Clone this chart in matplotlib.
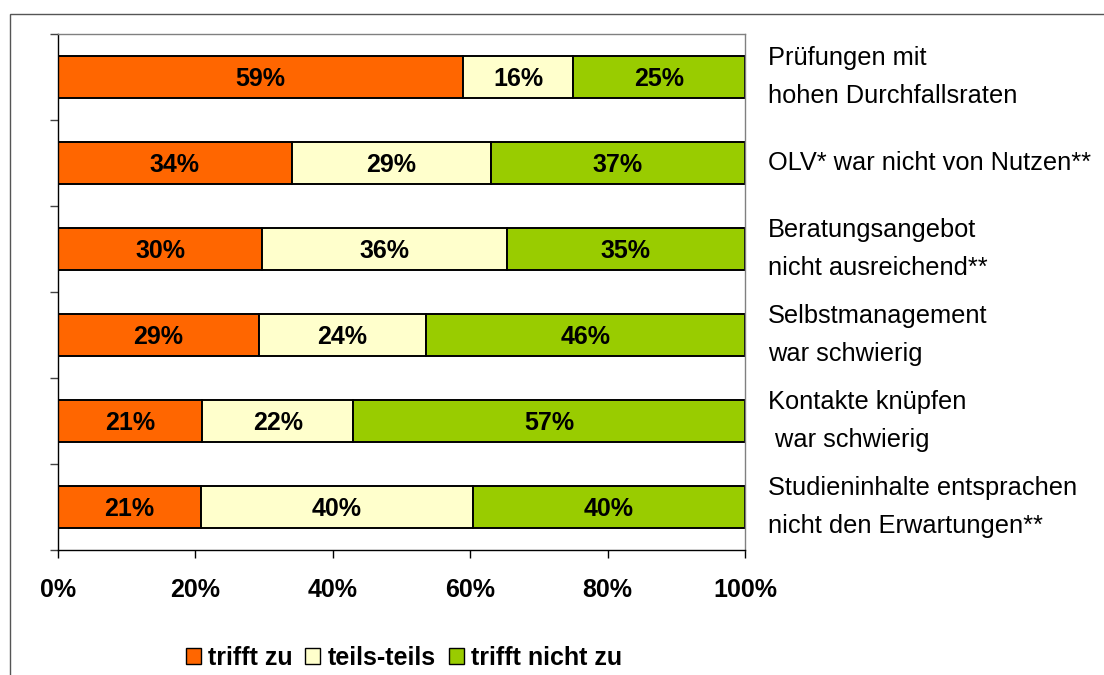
import matplotlib
matplotlib.use("Agg")
import matplotlib.pyplot as plt
from matplotlib.patches import Rectangle, Patch
import numpy as np

plt.rcParams['font.family'] = ['Liberation Sans', 'DejaVu Sans']

categories = [
    "Prüfungen mit\nhohen Durchfallsraten",
    "OLV* war nicht von Nutzen**",
    "Beratungsangebot\nnicht ausreichend**",
    "Selbstmanagement\nwar schwierig",
    "Kontakte knüpfen\n war schwierig",
    "Studieninhalte entsprachen\nnicht den Erwartungen**",
]
trifft_zu = [59, 34, 30, 29, 21, 21]
teils_teils = [16, 29, 36, 24, 22, 40]
trifft_nicht_zu = [25, 37, 35, 46, 57, 40]
series_names = ["trifft zu", "teils-teils", "trifft nicht zu"]
colors = ["#FF6600", "#FFFFCC", "#99CC00"]
xtick_labels = ["0%", "20%", "40%", "60%", "80%", "100%"]

W, H = 1104, 675
fig = plt.figure(figsize=(W / 100, H / 100), dpi=100)
ax = fig.add_axes([58 / W, 1 - 550 / H, (745 - 58) / W, (550 - 34) / H])

data = np.array([trifft_zu, teils_teils, trifft_nicht_zu], dtype=float)
totals = data.sum(axis=0)
shares = data / totals
y = np.arange(len(categories))
left = np.zeros(len(categories))
for i in range(3):
    ax.barh(y, shares[i], left=left, height=0.49, color=colors[i],
            edgecolor="black", linewidth=1.4, label=series_names[i])
    for j in range(len(categories)):
        ax.text(left[j] + shares[i][j] / 2, y[j] + 0.02, f"{int(data[i][j])}%",
                ha="center", va="center", fontsize=18, fontweight="bold")
    left += shares[i]

ax.set_xlim(0, 1)
ax.set_ylim(len(categories) - 0.5, -0.5)
ax.set_xticks(np.linspace(0, 1, 6))
ax.set_xticklabels(xtick_labels, fontsize=18, fontweight="bold")
ax.set_yticks(np.arange(-0.5, len(categories), 1.0))
ax.set_yticklabels([])
ax.tick_params(axis="x", direction="out", length=6, width=1, pad=14)
ax.tick_params(axis="y", direction="out", length=6, width=1, color="#444444")
for s in ["top", "right"]:
    ax.spines[s].set_color("#808080")
    ax.spines[s].set_linewidth(1)
for s in ["left", "bottom"]:
    ax.spines[s].set_color("black")
    ax.spines[s].set_linewidth(1)

for j, cat in enumerate(categories):
    ax.text(1.0335, y[j], cat, transform=ax.get_yaxis_transform(),
            ha="left", va="center", fontsize=18.3, linespacing=1.7)

handles = [Patch(facecolor=c, edgecolor="black", linewidth=1) for c in colors]
fig.legend(handles, series_names, loc="center", bbox_to_anchor=(404 / W, 1 - 658 / H),
           ncol=3, frameon=False, handlelength=0.6, handleheight=0.6,
           handletextpad=0.3, columnspacing=0.5, prop={"weight": "bold", "size": 18})

fig.patches.append(Rectangle((10 / W, -0.1), 1.2, 0.1 + 1 - 14 / H, transform=fig.transFigure,
                             fill=False, edgecolor="#555555", linewidth=1, clip_on=False))

fig.savefig("out.png", dpi=100, facecolor="white")
